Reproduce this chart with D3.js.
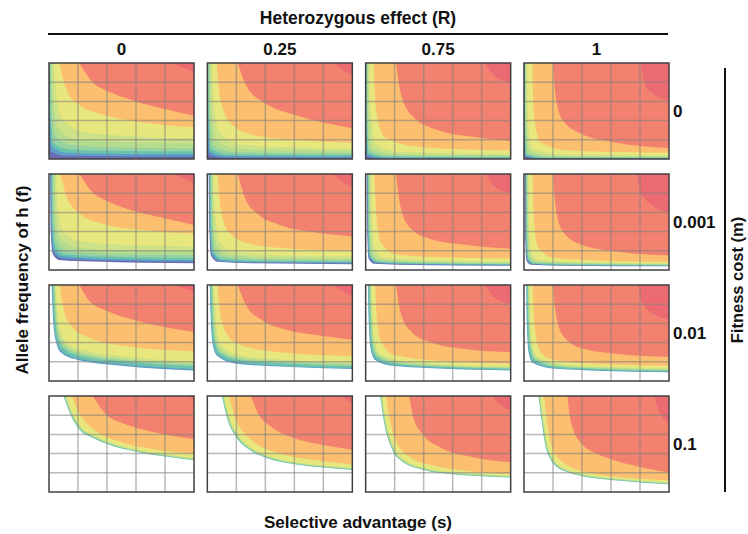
<!DOCTYPE html>
<html><head><meta charset="utf-8">
<script src="https://cdn.jsdelivr.net/npm/d3@7"></script>
<style>body{margin:0;background:#fff} svg{display:block} text{font-family:"Liberation Sans",Arial,sans-serif;font-weight:bold;fill:#111}</style>
</head><body><svg id="c" width="748" height="534"></svg>
<script>
// Categories
const colR = ["0","0.25","0.75","1"];          // Heterozygous effect (R)
const rowM = ["0","0.001","0.01","0.1"];       // Fitness cost (m)
const gridTicks = [0.2,0.4,0.6,0.8];
const bandColors = ["#6b6ab0","#5b9ec8","#6cc3ad","#96d3a0","#b4dc8f","#cde287","#e7e77d","#fcbe6f","#f2816f","#ec6b72"];

// Contour boundaries: [band level, [[s,f],...]] (s,f normalised 0..1)
const cont_m0_R0 = [
 [1,[[0.002,1],[0.004,0.4],[0.012,0.08],[0.1,0.035],[0.4,0.03],[1,0.027]]],
 [2,[[0.004,1],[0.007,0.45],[0.02,0.13],[0.12,0.065],[0.4,0.055],[1,0.05]]],
 [3,[[0.007,1],[0.011,0.5],[0.03,0.17],[0.14,0.1],[0.45,0.086],[1,0.08]]],
 [4,[[0.012,1],[0.018,0.55],[0.045,0.24],[0.16,0.145],[0.5,0.12],[1,0.11]]],
 [5,[[0.02,1],[0.03,0.6],[0.07,0.3],[0.2,0.2],[0.55,0.175],[1,0.165]]],
 [6,[[0.035,1],[0.05,0.65],[0.1,0.4],[0.25,0.28],[0.6,0.235],[1,0.215]]],
 [7,[[0.075,1],[0.11,0.76],[0.2,0.57],[0.4,0.45],[0.7,0.37],[1,0.33]]],
 [8,[[0.21,1],[0.3,0.8],[0.4,0.71],[0.6,0.6],[0.8,0.52],[1,0.45]]],
 [9,[[0.85,1],[0.93,0.95],[1,0.91]]]
];
const cont_m0_R1 = [
 [1,[[0.002,1],[0.004,0.35],[0.01,0.05],[0.1,0.018],[0.4,0.015],[1,0.013]]],
 [2,[[0.004,1],[0.007,0.4],[0.017,0.08],[0.12,0.033],[0.4,0.029],[1,0.026]]],
 [3,[[0.007,1],[0.011,0.42],[0.026,0.11],[0.14,0.053],[0.45,0.046],[1,0.042]]],
 [4,[[0.012,1],[0.018,0.45],[0.04,0.15],[0.16,0.076],[0.5,0.065],[1,0.06]]],
 [5,[[0.02,1],[0.03,0.5],[0.06,0.2],[0.2,0.11],[0.55,0.092],[1,0.085]]],
 [6,[[0.032,1],[0.046,0.55],[0.09,0.26],[0.25,0.15],[0.6,0.12],[1,0.11]]],
 [7,[[0.065,1],[0.09,0.62],[0.17,0.36],[0.35,0.24],[0.7,0.19],[1,0.17]]],
 [8,[[0.21,1],[0.27,0.76],[0.4,0.58],[0.6,0.46],[0.8,0.38],[1,0.32]]],
 [9,[[0.87,1],[0.93,0.93],[1,0.87]]]
];
const cont_m0_R2 = [
 [1,[[0.002,1],[0.003,0.3],[0.008,0.03],[0.1,0.008],[0.4,0.007],[1,0.006]]],
 [2,[[0.004,1],[0.006,0.33],[0.014,0.05],[0.12,0.016],[0.4,0.014],[1,0.012]]],
 [3,[[0.006,1],[0.009,0.36],[0.02,0.07],[0.14,0.025],[0.45,0.021],[1,0.019]]],
 [4,[[0.01,1],[0.015,0.4],[0.03,0.09],[0.16,0.036],[0.5,0.031],[1,0.028]]],
 [5,[[0.016,1],[0.024,0.43],[0.045,0.12],[0.2,0.052],[0.55,0.044],[1,0.04]]],
 [6,[[0.026,1],[0.036,0.47],[0.07,0.16],[0.25,0.072],[0.6,0.06],[1,0.055]]],
 [7,[[0.055,1],[0.072,0.52],[0.13,0.23],[0.35,0.13],[0.7,0.1],[1,0.09]]],
 [8,[[0.21,1],[0.24,0.7],[0.32,0.45],[0.5,0.3],[0.75,0.23],[1,0.19]]],
 [9,[[0.82,1],[0.88,0.88],[1,0.79]]]
];
const cont_m0_R3 = [
 [1,[[0.002,1],[0.003,0.25],[0.007,0.025],[0.1,0.005],[0.4,0.0045],[1,0.004]]],
 [2,[[0.004,1],[0.005,0.28],[0.012,0.035],[0.12,0.01],[0.4,0.009],[1,0.008]]],
 [3,[[0.006,1],[0.008,0.3],[0.018,0.05],[0.14,0.017],[0.45,0.014],[1,0.013]]],
 [4,[[0.009,1],[0.012,0.33],[0.026,0.065],[0.16,0.024],[0.5,0.021],[1,0.019]]],
 [5,[[0.014,1],[0.019,0.36],[0.038,0.085],[0.2,0.034],[0.55,0.029],[1,0.027]]],
 [6,[[0.021,1],[0.028,0.4],[0.055,0.11],[0.25,0.048],[0.6,0.041],[1,0.038]]],
 [7,[[0.058,1],[0.068,0.5],[0.11,0.18],[0.3,0.09],[0.65,0.072],[1,0.065]]],
 [8,[[0.2,1],[0.215,0.7],[0.26,0.42],[0.4,0.26],[0.6,0.18],[1,0.115]]],
 [9,[[0.81,1],[0.83,0.8],[0.9,0.67],[1,0.61]]]
];
const cont_m1_R0 = [
 [0,[[0.008,1],[0.012,0.4],[0.025,0.17],[0.07,0.105],[0.3,0.088],[1,0.07]]],
 [1,[[0.012,1],[0.016,0.42],[0.03,0.19],[0.08,0.123],[0.3,0.104],[1,0.086]]],
 [2,[[0.017,1],[0.021,0.45],[0.036,0.22],[0.09,0.145],[0.3,0.123],[1,0.103]]],
 [3,[[0.022,1],[0.027,0.48],[0.045,0.25],[0.1,0.17],[0.35,0.142],[1,0.125]]],
 [4,[[0.03,1],[0.036,0.52],[0.058,0.29],[0.13,0.2],[0.4,0.17],[1,0.155]]],
 [5,[[0.04,1],[0.048,0.56],[0.075,0.34],[0.17,0.24],[0.45,0.205],[1,0.19]]],
 [6,[[0.05,1],[0.062,0.62],[0.1,0.4],[0.22,0.3],[0.55,0.26],[1,0.245]]],
 [7,[[0.08,1],[0.12,0.77],[0.2,0.6],[0.4,0.47],[0.7,0.41],[1,0.38]]],
 [8,[[0.21,1],[0.3,0.81],[0.4,0.72],[0.6,0.61],[0.8,0.54],[1,0.47]]],
 [9,[[0.87,1],[0.93,0.95],[1,0.91]]]
];
const cont_m1_R1 = [
 [0,[[0.01,1],[0.015,0.4],[0.025,0.15],[0.07,0.085],[0.3,0.07],[1,0.06]]],
 [1,[[0.013,1],[0.018,0.4],[0.03,0.16],[0.08,0.095],[0.3,0.078],[1,0.068]]],
 [2,[[0.017,1],[0.022,0.42],[0.035,0.18],[0.09,0.105],[0.3,0.087],[1,0.077]]],
 [3,[[0.022,1],[0.028,0.45],[0.042,0.2],[0.1,0.12],[0.35,0.098],[1,0.088]]],
 [4,[[0.028,1],[0.035,0.48],[0.052,0.23],[0.12,0.14],[0.4,0.112],[1,0.1]]],
 [5,[[0.035,1],[0.044,0.5],[0.065,0.26],[0.14,0.165],[0.45,0.13],[1,0.118]]],
 [6,[[0.045,1],[0.056,0.55],[0.085,0.3],[0.17,0.2],[0.5,0.155],[1,0.14]]],
 [7,[[0.07,1],[0.095,0.62],[0.15,0.39],[0.3,0.27],[0.6,0.22],[1,0.2]]],
 [8,[[0.21,1],[0.26,0.75],[0.35,0.58],[0.5,0.47],[0.75,0.39],[1,0.35]]],
 [9,[[0.86,1],[0.92,0.93],[1,0.86]]]
];
const cont_m1_R2 = [
 [0,[[0.008,1],[0.012,0.35],[0.02,0.12],[0.06,0.065],[0.3,0.053],[1,0.045]]],
 [1,[[0.011,1],[0.015,0.35],[0.024,0.13],[0.07,0.072],[0.3,0.058],[1,0.05]]],
 [2,[[0.014,1],[0.018,0.37],[0.028,0.14],[0.075,0.08],[0.3,0.064],[1,0.055]]],
 [3,[[0.018,1],[0.022,0.4],[0.033,0.15],[0.08,0.088],[0.35,0.07],[1,0.061]]],
 [4,[[0.023,1],[0.028,0.42],[0.04,0.17],[0.09,0.098],[0.4,0.078],[1,0.068]]],
 [5,[[0.029,1],[0.035,0.45],[0.05,0.19],[0.1,0.11],[0.45,0.086],[1,0.076]]],
 [6,[[0.037,1],[0.045,0.48],[0.065,0.21],[0.12,0.13],[0.5,0.098],[1,0.087]]],
 [7,[[0.06,1],[0.075,0.55],[0.11,0.27],[0.22,0.16],[0.6,0.13],[1,0.12]]],
 [8,[[0.21,1],[0.235,0.7],[0.3,0.45],[0.45,0.32],[0.7,0.26],[1,0.22]]],
 [9,[[0.83,1],[0.88,0.88],[1,0.8]]]
];
const cont_m1_R3 = [
 [0,[[0.007,1],[0.01,0.3],[0.017,0.1],[0.05,0.055],[0.3,0.045],[1,0.038]]],
 [1,[[0.01,1],[0.013,0.3],[0.02,0.11],[0.055,0.06],[0.3,0.049],[1,0.042]]],
 [2,[[0.013,1],[0.016,0.32],[0.024,0.12],[0.06,0.066],[0.3,0.053],[1,0.046]]],
 [3,[[0.016,1],[0.02,0.35],[0.028,0.13],[0.065,0.072],[0.35,0.058],[1,0.05]]],
 [4,[[0.02,1],[0.024,0.37],[0.034,0.145],[0.07,0.08],[0.4,0.064],[1,0.055]]],
 [5,[[0.025,1],[0.03,0.4],[0.042,0.16],[0.08,0.09],[0.45,0.07],[1,0.061]]],
 [6,[[0.032,1],[0.038,0.42],[0.054,0.18],[0.1,0.1],[0.5,0.078],[1,0.068]]],
 [7,[[0.06,1],[0.07,0.5],[0.1,0.23],[0.2,0.13],[0.6,0.095],[1,0.085]]],
 [8,[[0.2,1],[0.215,0.7],[0.26,0.42],[0.4,0.26],[0.65,0.19],[1,0.15]]],
 [9,[[0.78,1],[0.8,0.82],[0.88,0.68],[1,0.6]]]
];
const cont_m2_R0 = [
 [1,[[0.018,1],[0.03,0.6],[0.05,0.4],[0.08,0.3],[0.2,0.22],[0.5,0.16],[1,0.11]]],
 [2,[[0.022,1],[0.034,0.6],[0.055,0.41],[0.09,0.31],[0.2,0.235],[0.5,0.175],[1,0.125]]],
 [2,[[0.026,1],[0.038,0.61],[0.06,0.42],[0.1,0.32],[0.2,0.25],[0.5,0.19],[1,0.14]]],
 [3,[[0.03,1],[0.043,0.62],[0.066,0.43],[0.11,0.33],[0.22,0.26],[0.5,0.205],[1,0.155]]],
 [4,[[0.035,1],[0.05,0.63],[0.073,0.44],[0.12,0.345],[0.24,0.275],[0.5,0.22],[1,0.17]]],
 [5,[[0.04,1],[0.056,0.64],[0.08,0.46],[0.13,0.36],[0.25,0.29],[0.5,0.235],[1,0.185]]],
 [6,[[0.045,1],[0.062,0.66],[0.09,0.48],[0.14,0.38],[0.27,0.31],[0.5,0.26],[1,0.2]]],
 [7,[[0.075,1],[0.1,0.75],[0.15,0.58],[0.25,0.47],[0.5,0.37],[1,0.31]]],
 [8,[[0.21,1],[0.28,0.83],[0.4,0.73],[0.6,0.63],[0.8,0.56],[1,0.51]]],
 [9,[[0.88,1],[0.94,0.96],[1,0.93]]]
];
const cont_m2_R1 = [
 [1,[[0.017,1],[0.025,0.6],[0.04,0.36],[0.07,0.26],[0.2,0.18],[0.5,0.15],[1,0.125]]],
 [2,[[0.02,1],[0.028,0.6],[0.044,0.37],[0.077,0.27],[0.2,0.195],[0.5,0.16],[1,0.135]]],
 [2,[[0.024,1],[0.032,0.61],[0.048,0.38],[0.084,0.28],[0.2,0.21],[0.5,0.172],[1,0.145]]],
 [3,[[0.028,1],[0.037,0.62],[0.054,0.39],[0.09,0.29],[0.22,0.22],[0.5,0.185],[1,0.155]]],
 [4,[[0.033,1],[0.043,0.63],[0.06,0.4],[0.1,0.3],[0.23,0.23],[0.5,0.198],[1,0.167]]],
 [5,[[0.038,1],[0.05,0.64],[0.068,0.41],[0.11,0.31],[0.25,0.24],[0.5,0.21],[1,0.18]]],
 [6,[[0.045,1],[0.058,0.65],[0.08,0.43],[0.12,0.33],[0.26,0.26],[0.5,0.225],[1,0.195]]],
 [7,[[0.07,1],[0.09,0.7],[0.13,0.5],[0.22,0.38],[0.5,0.3],[1,0.26]]],
 [8,[[0.21,1],[0.27,0.78],[0.37,0.64],[0.55,0.53],[0.8,0.47],[1,0.43]]],
 [9,[[0.87,1],[0.93,0.94],[1,0.88]]]
];
const cont_m2_R2 = [
 [1,[[0.016,1],[0.022,0.6],[0.035,0.33],[0.065,0.22],[0.2,0.155],[0.5,0.13],[1,0.11]]],
 [2,[[0.019,1],[0.025,0.6],[0.039,0.34],[0.07,0.23],[0.2,0.163],[0.5,0.137],[1,0.116]]],
 [2,[[0.022,1],[0.029,0.61],[0.043,0.35],[0.075,0.24],[0.2,0.171],[0.5,0.144],[1,0.122]]],
 [3,[[0.026,1],[0.033,0.62],[0.048,0.36],[0.08,0.25],[0.22,0.178],[0.5,0.151],[1,0.128]]],
 [4,[[0.03,1],[0.038,0.63],[0.053,0.37],[0.086,0.26],[0.23,0.186],[0.5,0.158],[1,0.135]]],
 [5,[[0.035,1],[0.044,0.64],[0.06,0.38],[0.093,0.27],[0.25,0.194],[0.5,0.165],[1,0.142]]],
 [6,[[0.041,1],[0.05,0.65],[0.068,0.39],[0.1,0.285],[0.26,0.205],[0.5,0.175],[1,0.15]]],
 [7,[[0.065,1],[0.08,0.62],[0.11,0.4],[0.2,0.27],[0.5,0.21],[1,0.18]]],
 [8,[[0.21,1],[0.24,0.72],[0.31,0.52],[0.45,0.4],[0.7,0.33],[1,0.3]]],
 [9,[[0.83,1],[0.88,0.88],[1,0.8]]]
];
const cont_m2_R3 = [
 [1,[[0.015,1],[0.02,0.6],[0.032,0.3],[0.06,0.19],[0.2,0.13],[0.5,0.108],[1,0.09]]],
 [2,[[0.018,1],[0.023,0.6],[0.036,0.31],[0.065,0.2],[0.2,0.137],[0.5,0.114],[1,0.096]]],
 [2,[[0.021,1],[0.026,0.61],[0.04,0.32],[0.07,0.21],[0.2,0.144],[0.5,0.12],[1,0.102]]],
 [3,[[0.024,1],[0.03,0.62],[0.044,0.33],[0.075,0.22],[0.22,0.15],[0.5,0.126],[1,0.108]]],
 [4,[[0.028,1],[0.034,0.63],[0.049,0.34],[0.08,0.23],[0.23,0.157],[0.5,0.133],[1,0.115]]],
 [5,[[0.032,1],[0.039,0.64],[0.055,0.35],[0.087,0.24],[0.25,0.165],[0.5,0.14],[1,0.122]]],
 [6,[[0.038,1],[0.045,0.65],[0.062,0.36],[0.095,0.25],[0.26,0.175],[0.5,0.15],[1,0.13]]],
 [7,[[0.06,1],[0.072,0.6],[0.1,0.35],[0.18,0.23],[0.5,0.18],[1,0.16]]],
 [8,[[0.2,1],[0.22,0.7],[0.27,0.47],[0.4,0.34],[0.65,0.28],[1,0.25]]],
 [9,[[0.79,1],[0.81,0.83],[0.88,0.71],[1,0.64]]]
];
const cont_m3_R0 = [
 [2,[[0.1,1],[0.15,0.8],[0.2,0.67],[0.3,0.565],[0.4,0.5],[0.6,0.42],[0.8,0.37],[1,0.33]]],
 [3,[[0.103,1],[0.153,0.803],[0.204,0.674],[0.304,0.569],[0.404,0.504],[0.6,0.425],[0.8,0.375],[1,0.335]]],
 [5,[[0.11,1],[0.16,0.807],[0.21,0.68],[0.31,0.575],[0.41,0.51],[0.6,0.433],[0.8,0.383],[1,0.343]]],
 [6,[[0.118,1],[0.168,0.81],[0.218,0.686],[0.318,0.582],[0.418,0.518],[0.6,0.442],[0.8,0.392],[1,0.352]]],
 [7,[[0.16,1],[0.2,0.84],[0.26,0.71],[0.35,0.61],[0.5,0.52],[0.7,0.45],[1,0.4]]],
 [8,[[0.3,1],[0.4,0.8],[0.5,0.72],[0.6,0.67],[0.8,0.6],[1,0.55]]],
 [9,[[0.95,1],[0.98,0.98],[1,0.95]]]
];
const cont_m3_R1 = [
 [2,[[0.1,1],[0.14,0.75],[0.2,0.57],[0.3,0.43],[0.4,0.36],[0.6,0.29],[0.8,0.255],[1,0.23]]],
 [3,[[0.103,1],[0.143,0.753],[0.204,0.574],[0.304,0.434],[0.404,0.364],[0.6,0.295],[0.8,0.26],[1,0.235]]],
 [5,[[0.109,1],[0.149,0.757],[0.21,0.58],[0.31,0.44],[0.41,0.37],[0.6,0.303],[0.8,0.268],[1,0.243]]],
 [6,[[0.116,1],[0.156,0.762],[0.217,0.587],[0.317,0.448],[0.417,0.378],[0.6,0.312],[0.8,0.277],[1,0.252]]],
 [7,[[0.15,1],[0.19,0.78],[0.25,0.62],[0.34,0.5],[0.5,0.4],[0.75,0.33],[1,0.29]]],
 [8,[[0.3,1],[0.35,0.82],[0.45,0.67],[0.6,0.56],[0.8,0.49],[1,0.44]]],
 [9,[[0.92,1],[0.96,0.96],[1,0.92]]]
];
const cont_m3_R2 = [
 [2,[[0.1,1],[0.13,0.7],[0.18,0.45],[0.25,0.32],[0.4,0.23],[0.6,0.185],[0.8,0.165],[1,0.15]]],
 [3,[[0.103,1],[0.133,0.703],[0.184,0.454],[0.254,0.324],[0.404,0.234],[0.6,0.19],[0.8,0.17],[1,0.155]]],
 [5,[[0.108,1],[0.138,0.707],[0.189,0.459],[0.259,0.329],[0.41,0.24],[0.6,0.197],[0.8,0.177],[1,0.162]]],
 [6,[[0.114,1],[0.144,0.712],[0.195,0.465],[0.265,0.336],[0.417,0.248],[0.6,0.205],[0.8,0.185],[1,0.17]]],
 [7,[[0.14,1],[0.17,0.73],[0.22,0.5],[0.3,0.37],[0.45,0.28],[0.7,0.22],[1,0.19]]],
 [8,[[0.3,1],[0.33,0.77],[0.4,0.59],[0.52,0.46],[0.75,0.36],[1,0.31]]],
 [9,[[0.87,1],[0.92,0.92],[1,0.85]]]
];
const cont_m3_R3 = [
 [2,[[0.1,1],[0.125,0.7],[0.145,0.5],[0.17,0.38],[0.2,0.3],[0.3,0.205],[0.4,0.165],[0.6,0.125],[0.8,0.1],[1,0.08]]],
 [3,[[0.103,1],[0.128,0.703],[0.148,0.503],[0.174,0.384],[0.204,0.304],[0.304,0.209],[0.404,0.169],[0.6,0.13],[0.8,0.105],[1,0.085]]],
 [5,[[0.108,1],[0.133,0.707],[0.153,0.508],[0.179,0.389],[0.209,0.31],[0.309,0.215],[0.41,0.175],[0.6,0.137],[0.8,0.112],[1,0.092]]],
 [6,[[0.114,1],[0.139,0.712],[0.159,0.514],[0.185,0.396],[0.215,0.317],[0.315,0.222],[0.417,0.182],[0.6,0.145],[0.8,0.12],[1,0.1]]],
 [7,[[0.14,1],[0.16,0.72],[0.18,0.54],[0.21,0.41],[0.25,0.33],[0.32,0.26],[0.45,0.2],[0.7,0.15],[1,0.12]]],
 [8,[[0.3,1],[0.315,0.8],[0.34,0.65],[0.4,0.5],[0.5,0.4],[0.6,0.34],[0.8,0.26],[1,0.2]]],
 [9,[[0.9,1],[0.93,0.85],[1,0.72]]]
];

const panels = [
 [cont_m0_R0, cont_m0_R1, cont_m0_R2, cont_m0_R3],
 [cont_m1_R0, cont_m1_R1, cont_m1_R2, cont_m1_R3],
 [cont_m2_R0, cont_m2_R1, cont_m2_R2, cont_m2_R3],
 [cont_m3_R0, cont_m3_R1, cont_m3_R2, cont_m3_R3]
];

const svg = d3.select("#c");
const colBand = d3.scaleBand().domain(colR).range([49,669]).paddingInner(0.084);
const rowBand = d3.scaleBand().domain(rowM).range([63,492]).paddingInner(0.135);
const bw = colBand.bandwidth(), bh = rowBand.bandwidth();
const x = d3.scaleLinear().domain([0,1]).range([0,bw]);
const y = d3.scaleLinear().domain([0,1]).range([bh,0]);
const area = d3.area().x(d=>x(d[0])).y0(y(1)).y1(d=>y(d[1])).curve(d3.curveMonotoneX);

svg.append("defs").append("clipPath").attr("id","pc")
  .append("rect").attr("width",bw).attr("height",bh);

rowM.forEach((m,ri)=>{
  colR.forEach((r,ci)=>{
    const g = svg.append("g").attr("transform",`translate(${colBand(r)},${rowBand(m)})`);
    const inner = g.append("g").attr("clip-path","url(#pc)");
    inner.append("rect").attr("width",bw).attr("height",bh)
      .attr("fill", ri===0 ? bandColors[0] : "#fff");
    panels[ri][ci].forEach(([lev,pts])=>{
      inner.append("path").attr("d",area(pts)).attr("fill",bandColors[lev]);
    });
    gridTicks.forEach(t=>{
      inner.append("line").attr("x1",x(t)).attr("x2",x(t)).attr("y1",0).attr("y2",bh)
        .attr("stroke","#808080").attr("stroke-opacity",0.55).attr("stroke-width",1.5);
      inner.append("line").attr("y1",y(t)).attr("y2",y(t)).attr("x1",0).attr("x2",bw)
        .attr("stroke","#808080").attr("stroke-opacity",0.55).attr("stroke-width",1.5);
    });
    g.append("rect").attr("width",bw).attr("height",bh).attr("fill","none")
      .attr("stroke","#404040").attr("stroke-width",1.5);
  });
});

// Column header
svg.append("text").attr("x",358).attr("y",24).attr("text-anchor","middle")
  .attr("font-size",17.5).text("Heterozygous effect (R)");
svg.append("line").attr("x1",48).attr("x2",668).attr("y1",34).attr("y2",34)
  .attr("stroke","#111").attr("stroke-width",2);
colR.forEach(r=>{
  svg.append("text").attr("x",colBand(r)+bw/2).attr("y",54.5).attr("text-anchor","middle")
    .attr("font-size",17).text(r);
});
// Row header
rowM.forEach(m=>{
  svg.append("text").attr("x",673).attr("y",rowBand(m)+bh/2+6).attr("text-anchor","start")
    .attr("font-size",17).text(m);
});
svg.append("line").attr("x1",725).attr("x2",725).attr("y1",68).attr("y2",492)
  .attr("stroke","#111").attr("stroke-width",2);
svg.append("text").attr("transform","translate(742.5,280) rotate(-90)").attr("text-anchor","middle")
  .attr("font-size",16.5).text("Fitness cost (m)");
// Axis titles
svg.append("text").attr("transform","translate(28,280) rotate(-90)").attr("text-anchor","middle")
  .attr("font-size",17).text("Allele frequency of h (f)");
svg.append("text").attr("x",358).attr("y",528).attr("text-anchor","middle")
  .attr("font-size",17).text("Selective advantage (s)");
</script></body></html>
